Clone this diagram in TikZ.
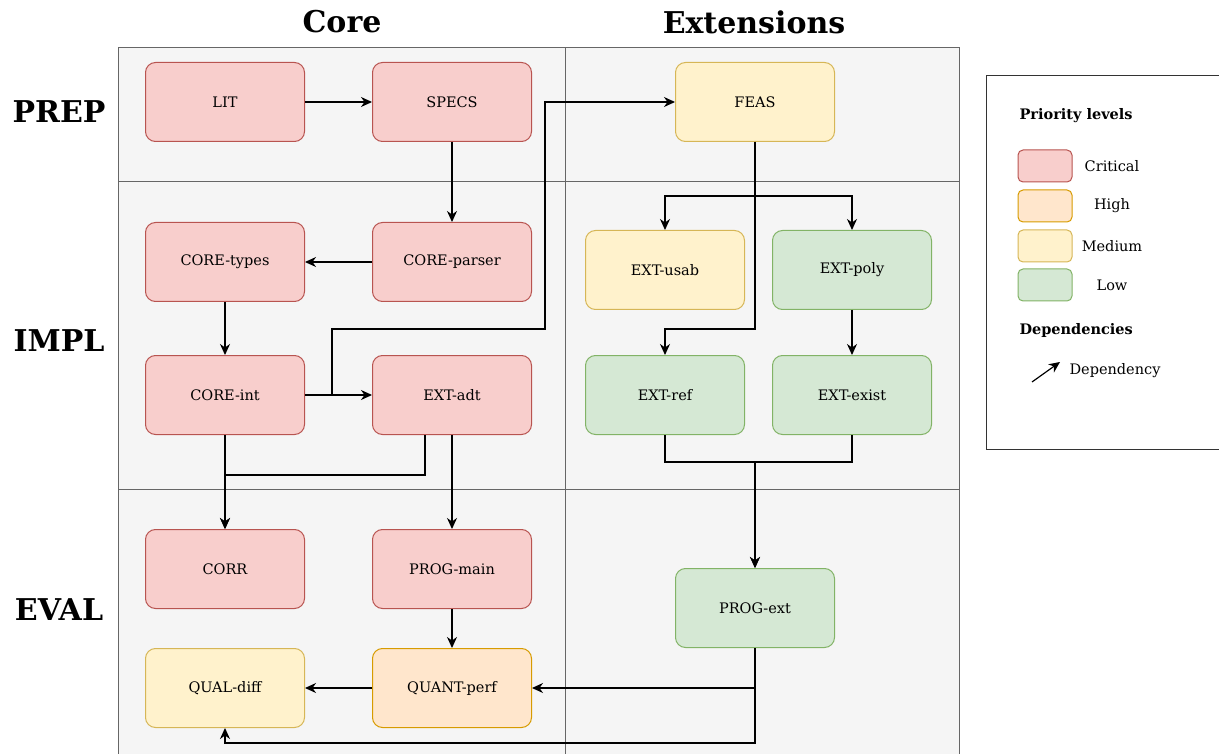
\documentclass[tikz,border=0pt]{standalone}
\usepackage{fontspec}
\setmainfont{DejaVu Serif}
\usepackage{tikz}
\usetikzlibrary{arrows.meta,positioning}
\definecolor{PlanRedFill}{HTML}{F8CECC}
\definecolor{PlanRedLine}{HTML}{B85450}
\definecolor{PlanOrangeFill}{HTML}{FFE6CC}
\definecolor{PlanOrangeLine}{HTML}{D79B00}
\definecolor{PlanYellowFill}{HTML}{FFF2CC}
\definecolor{PlanYellowLine}{HTML}{D6B656}
\definecolor{PlanGreenFill}{HTML}{D5E8D4}
\definecolor{PlanGreenLine}{HTML}{82B366}
\definecolor{PlanGrid}{HTML}{666666}
\definecolor{PlanPanel}{HTML}{F5F5F5}
\newcommand\taskfont{\fontsize{14.5}{17}\selectfont}
\newcommand\titlefont{\fontsize{30}{36}\selectfont\bfseries}
\tikzset{
  >={Stealth[length=11pt,width=10pt,inset=3.5pt]},
  flow/.style={->,line width=1.2pt,draw=black},
  box/.style={rounded corners=10pt,minimum width=159pt,minimum height=79pt,
    inner sep=0pt,line width=1pt,font=\taskfont},
  redbox/.style={box,draw=PlanRedLine,fill=PlanRedFill},
  orangebox/.style={box,draw=PlanOrangeLine,fill=PlanOrangeFill},
  yellowbox/.style={box,draw=PlanYellowLine,fill=PlanYellowFill},
  greenbox/.style={box,draw=PlanGreenLine,fill=PlanGreenFill},
  swatch/.style={rounded corners=5pt,minimum width=54pt,minimum height=32pt,
    inner sep=0pt,line width=1pt}
}
\begin{document}
\begin{tikzpicture}[x=1pt,y=-1pt]
        \useasboundingbox (0,0) rectangle (1219,754);
        % swimlane table
        \draw[PlanGrid,fill=PlanPanel,line width=1pt] (118,48) rectangle (959,770);
        \draw[PlanGrid,line width=1pt] (118,182) -- (959,182) (118,489) -- (959,489) (565,48) -- (565,770);
        \node[font=\titlefont] (hcore) at (342,22) {Core};
        \node[font=\titlefont] (hext) at (754,22) {Extensions};
        \node[font=\titlefont] (rprep) at (59,112) {PREP};
        \node[font=\titlefont] (rimpl) at (59,341) {IMPL};
        \node[font=\titlefont] (reval) at (59,610) {EVAL};
        % tasks
        \node[redbox] (lit) at (225,102) {LIT};
        \node[redbox,right=67pt of lit] (specs) {SPECS};
        \node[yellowbox,right=143pt of specs] (feas) {FEAS};
        \node[redbox,below=80pt of specs] (parser) {CORE-parser};
        \node[redbox,left=67pt of parser] (types) {CORE-types};
        \node[redbox,below=53pt of types] (coreint) {CORE-int};
        \node[redbox,right=67pt of coreint] (adt) {EXT-adt};
        \node[yellowbox,below=88pt of feas,xshift=-90pt] (usab) {EXT-usab};
        \node[greenbox,right=27pt of usab] (poly) {EXT-poly};
        \node[greenbox,below=45pt of usab] (ref) {EXT-ref};
        \node[greenbox,right=27pt of ref] (exist) {EXT-exist};
        \node[redbox,below=94pt of coreint] (corr) {CORR};
        \node[redbox,below=94pt of adt] (progmain) {PROG-main};
        \node[orangebox,below=39pt of progmain] (quant) {QUANT-perf};
        \node[yellowbox,left=67pt of quant] (qual) {QUAL-diff};
        \node[greenbox,below=133pt of ref,xshift=90pt] (progext) {PROG-ext};
        % dependencies
        \draw[flow] (lit) -- (specs);
        \draw[flow] (specs) -- (parser);
        \draw[flow] (parser) -- (types);
        \draw[flow] (types) -- (coreint);
        \draw[flow] (coreint) -- (adt);
        \draw[flow] (coreint.east) -- ++(27,0) |- ++(213,-66) |- (feas);
        \draw[flow] (feas.south) -- ++(0,54) -| (usab);
        \draw[flow] (feas.south) -- ++(0,54) -| (poly);
        \draw[flow] (feas.south) -- ++(0,187) -| (ref);
        \draw[flow] (poly) -- (exist);
        \draw[flow] (ref.south) -- ++(0,27) -| (progext);
        \draw[flow] (exist.south) -- ++(0,27) -| (progext);
        \draw[flow] (coreint) -- (corr);
        \draw[flow] ([xshift=-27pt]adt.south) -- ++(0,40) -| (corr);
        \draw[flow] (adt) -- (progmain);
        \draw[flow] (progmain) -- (quant);
        \draw[flow] (quant) -- (qual);
        \draw[flow] (progext.south) |- (quant);
        \draw[flow] (progext.south) -- ++(0,95) -| (qual);
        % legend
        \draw[black!80,line width=1pt] (986,76) rectangle (1240,449);
        \node[font=\taskfont\bfseries,anchor=west] (lgprio) at (1016,116) {Priority levels};
        \node[swatch,draw=PlanRedLine,fill=PlanRedFill] (swcrit) at (1045,166) {};
        \node[swatch,draw=PlanOrangeLine,fill=PlanOrangeFill] (swhigh) at (1045,206) {};
        \node[swatch,draw=PlanYellowLine,fill=PlanYellowFill] (swmed) at (1045,246) {};
        \node[swatch,draw=PlanGreenLine,fill=PlanGreenFill] (swlow) at (1045,285) {};
        \node[font=\taskfont] (lgcrit) at (1112,166) {Critical};
        \node[font=\taskfont] (lghigh) at (1112,206) {High};
        \node[font=\taskfont] (lgmed) at (1112,246) {Medium};
        \node[font=\taskfont] (lglow) at (1112,285) {Low};
        \node[font=\taskfont\bfseries,anchor=west] (lgdep) at (1016,330) {Dependencies};
        \coordinate (depfrom) at (1032,382);
        \coordinate (depto) at (1060,362);
        \draw[flow] (depfrom) -- (depto);
        \node[font=\taskfont,anchor=west] (lgarrow) at (1066,371) {Dependency};
      \end{tikzpicture}
\end{document}
